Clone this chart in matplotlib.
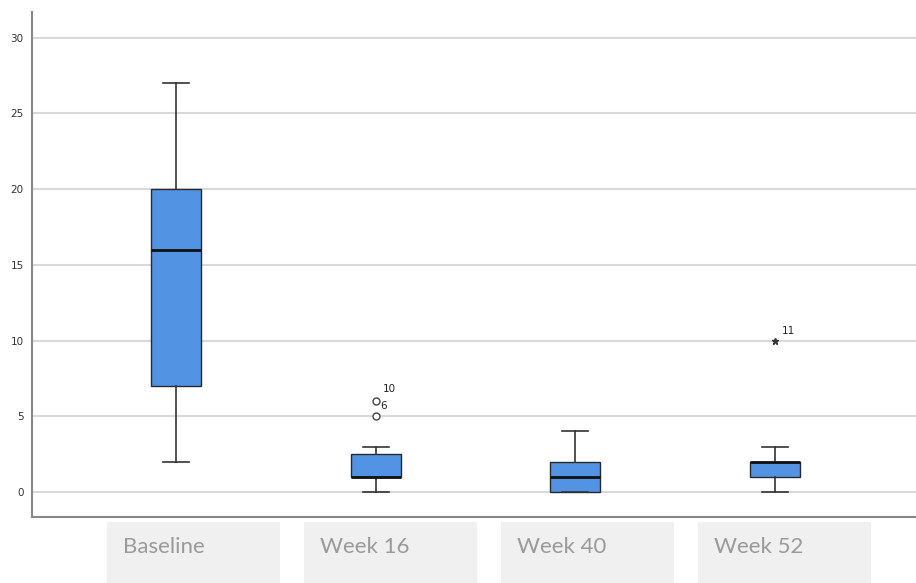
import matplotlib
matplotlib.use("Agg")
import matplotlib.pyplot as plt
from matplotlib.patches import Rectangle

# Visit labels and box-plot summary statistics
categories = ["Baseline", "Week 16", "Week 40", "Week 52"]
whisker_low = [2, 0, 0, 0]
q1 = [7, 1, 0, 1]
median = [16, 1, 1, 2]
q3 = [20, 2.5, 2, 2]
whisker_high = [27, 3, 4, 3]

# Outlying cases: (group index, value, case id)
outliers = [(1, 5, "6"), (1, 6, "10")]
extremes = [(3, 10, "11")]

y_ticks = [0, 5, 10, 15, 20, 25, 30]

fill_color = "#5293e3"
grid_color = "#d9d9d9"

W, H = 916, 583
fig = plt.figure(figsize=(W / 100, H / 100), dpi=100)
ax = fig.add_axes([32 / W, 66 / H, 1 - 32 / W, (517 - 12) / H])

positions = list(range(1, len(categories) + 1))
stats = []
for i, name in enumerate(categories):
    stats.append(dict(label=name, whislo=whisker_low[i], q1=q1[i], med=median[i],
                      q3=q3[i], whishi=whisker_high[i], fliers=[]))

ax.bxp(stats, positions=positions, widths=0.25, patch_artist=True,
       showfliers=False,
       boxprops=dict(facecolor=fill_color, edgecolor="#2a2a2a", linewidth=1.0),
       medianprops=dict(color="#111111", linewidth=2.0),
       whiskerprops=dict(color="#333333", linewidth=1.2),
       capprops=dict(color="#333333", linewidth=1.2),
       capwidths=0.13)

for gi, val, cid in outliers:
    ax.plot(positions[gi], val, marker="o", markersize=5, markerfacecolor="white",
            markeredgecolor="#444444", markeredgewidth=1.0, linestyle="none", zorder=4)
    if cid == "10":
        ax.annotate(cid, (positions[gi], val), xytext=(5, 5), textcoords="offset points",
                    fontsize=7.5, color="#222222", ha="left", va="bottom")
    else:
        ax.annotate(cid, (positions[gi], val), xytext=(3, 4), textcoords="offset points",
                    fontsize=7.5, color="#222222", ha="left", va="bottom")
for gi, val, cid in extremes:
    ax.plot(positions[gi], val, marker="*", markersize=5, color="#333333",
            linestyle="none", zorder=4)
    ax.annotate(cid, (positions[gi], val), xytext=(5, 3), textcoords="offset points",
                fontsize=7.5, color="#222222", ha="left", va="bottom")

ax.set_xlim(0.28, 4.705)
ax.set_ylim(-1.65, 31.7)
ax.set_yticks(y_ticks)
ax.set_yticklabels([str(t) for t in y_ticks])
ax.yaxis.grid(True, color=grid_color, linewidth=1.5)
ax.set_axisbelow(True)
ax.set_xticks([])
ax.tick_params(axis="y", length=0, labelsize=7.5, labelcolor="#333333", pad=6)

for side in ("top", "right"):
    ax.spines[side].set_visible(False)
for side in ("left", "bottom"):
    ax.spines[side].set_color("#888888")
    ax.spines[side].set_linewidth(1.5)

# Shaded label panels beneath each group
panel_left, panel_step, panel_w, panel_h = 107, 197, 173, 61
for i, name in enumerate(categories):
    x0 = panel_left + panel_step * i
    fig.add_artist(Rectangle((x0 / W, 0), panel_w / W, panel_h / H,
                             transform=fig.transFigure, facecolor="#f0f0f0",
                             edgecolor="none"))
    fig.text((x0 + 16) / W, 36 / H, name, fontsize=16, family="Lato",
             color="#9a9a9a", ha="left", va="center")

fig.savefig("out.png", dpi=100, facecolor="white")
